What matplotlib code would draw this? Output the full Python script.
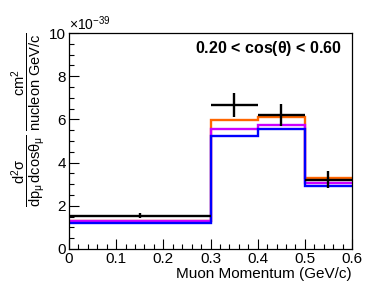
import matplotlib
matplotlib.use("Agg")
import matplotlib.pyplot as plt
from matplotlib.ticker import MultipleLocator

plt.rcParams["font.family"] = ["Liberation Sans", "DejaVu Sans"]
plt.rcParams["mathtext.fontset"] = "custom"
plt.rcParams["mathtext.rm"] = "Liberation Sans"
plt.rcParams["mathtext.it"] = "Liberation Sans:italic"
plt.rcParams["mathtext.bf"] = "Liberation Sans:bold"

# bin edges in muon momentum (GeV/c), cross sections in 1e-39 units
edges = [0.0, 0.3, 0.4, 0.5, 0.6]
data_x = [0.15, 0.35, 0.45, 0.55]
data_xerr = [0.15, 0.05, 0.05, 0.05]
data_y = [1.54, 6.67, 6.20, 3.21]
data_yerr = [0.12, 0.54, 0.52, 0.38]
model_orange = [1.31, 5.97, 6.13, 3.27]
model_magenta = [1.30, 5.56, 5.76, 3.07]
model_blue = [1.22, 5.23, 5.57, 2.90]

fig = plt.figure(figsize=(3.87, 2.83), dpi=100)
ax = fig.add_axes([69 / 387, 34 / 283, 283 / 387, 216 / 283])

ax.stairs(model_orange, edges, color="#ff6600", lw=1.7, baseline=None)
ax.stairs(model_magenta, edges, color="#cc00ff", lw=1.7, baseline=None)
ax.stairs(model_blue, edges, color="#0000ff", lw=1.7, baseline=None)
ax.errorbar(data_x, data_y, xerr=data_xerr, yerr=data_yerr, fmt="none",
            ecolor="black", elinewidth=1.7, capsize=0)

ax.set_xlim(0, 0.6)
ax.set_ylim(0, 10)
ax.xaxis.set_major_locator(MultipleLocator(0.1))
ax.xaxis.set_minor_locator(MultipleLocator(0.02))
ax.yaxis.set_major_locator(MultipleLocator(2))
ax.yaxis.set_minor_locator(MultipleLocator(0.5))
ax.xaxis.set_major_formatter(plt.FuncFormatter(lambda v, p: "0" if v == 0 else f"{v:.1f}"))
ax.tick_params(which="both", direction="in", top=False, right=False, labelsize=11, width=0.8)
ax.tick_params(which="major", length=7, pad=2)
ax.tick_params(which="minor", length=3.5)
for s in ax.spines.values():
    s.set_linewidth(0.9)

ax.set_xlabel("Muon Momentum (GeV/c)", loc="right", fontsize=11, labelpad=1)
ax.set_ylabel(r"$\dfrac{\mathrm{d^2\sigma}}{\mathrm{dp_\mu\,dcos\theta_\mu}}\ \dfrac{\mathrm{cm^2}}{\mathrm{nucleon\ GeV/c}}$",
              loc="top", fontsize=10.5, labelpad=1)
ax.text(0.0, 1.0, r"$\times$10$^{-39}$", transform=ax.transAxes, fontsize=10, ha="left", va="bottom")
ax.text(0.965, 0.93, r"0.20 < cos($\mathbf{\theta}$) < 0.60", transform=ax.transAxes,
        fontsize=11.5, fontweight="bold", ha="right", va="center")

fig.savefig("out.png", dpi=100)
